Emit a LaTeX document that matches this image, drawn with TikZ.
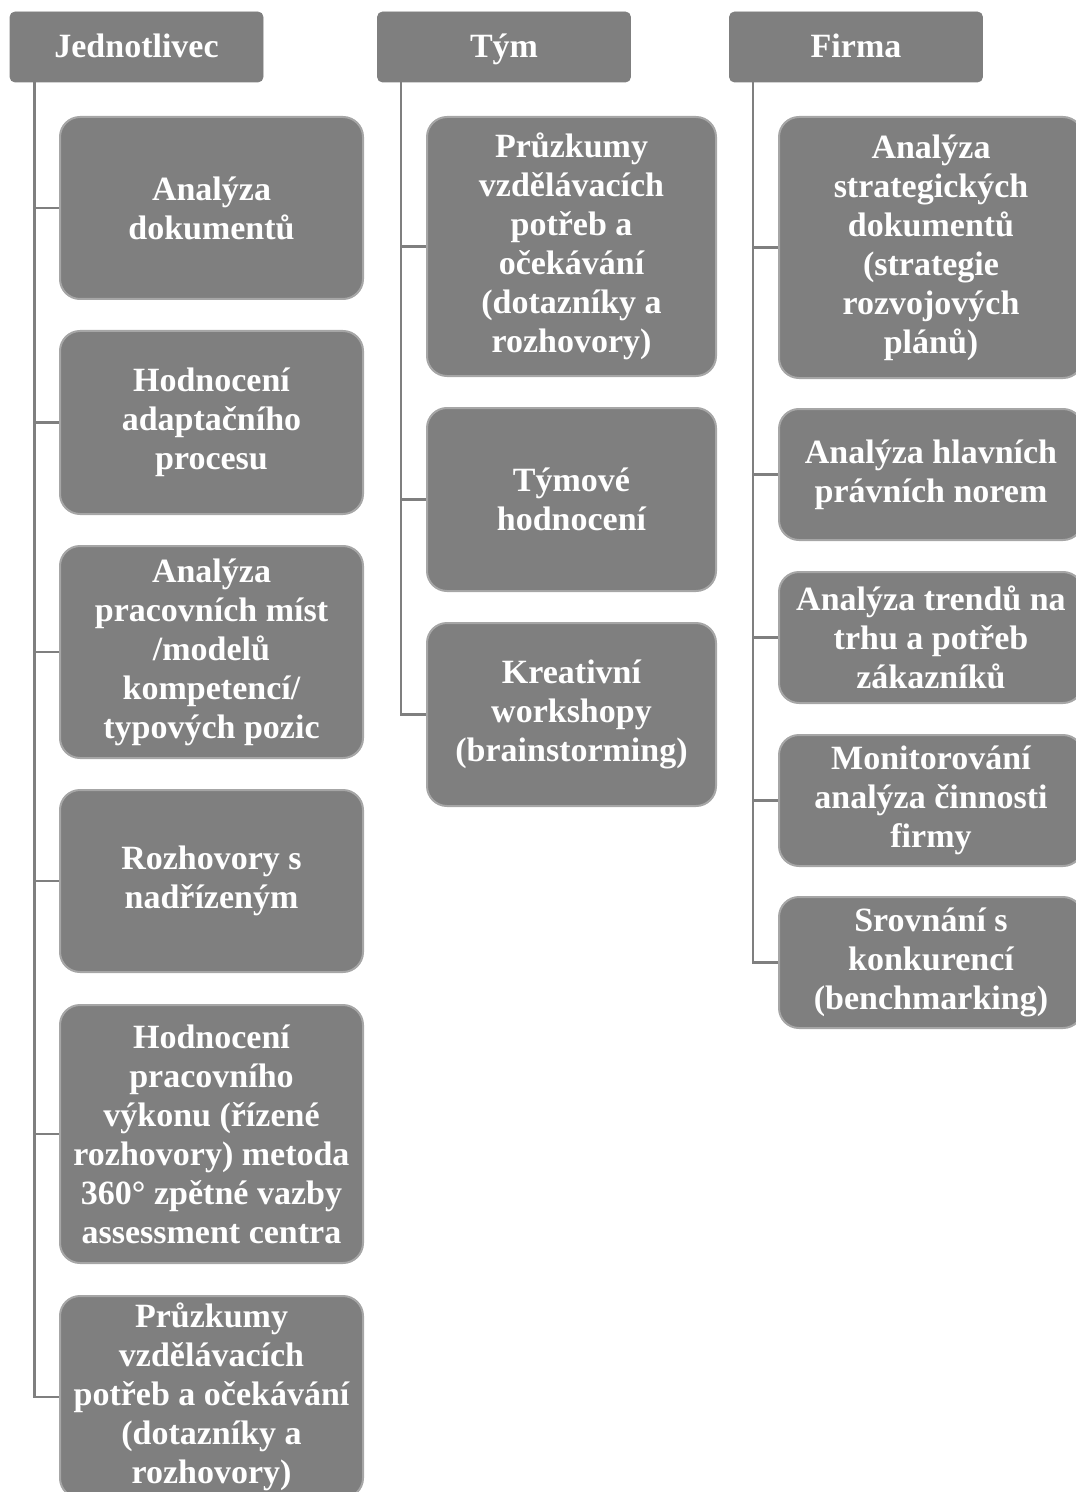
\documentclass[tikz,border=0pt]{standalone}
\usepackage{fontspec}
\setmainfont{Liberation Serif}
\usetikzlibrary{positioning}
\definecolor{boxgray}{HTML}{7F7F7F}
\definecolor{rimgray}{HTML}{A6A6A6}

\begin{document}
\begin{tikzpicture}[x=0.5pt, y=-0.5pt,
  hbox/.style={rectangle, rounded corners=2.5pt, fill=boxgray, draw=boxgray,
    minimum height=35pt, minimum width=126.5pt, text height=13pt, text depth=2pt},
  cbox/.style={rectangle, rounded corners=10pt, fill=boxgray, draw=rimgray, line width=1pt,
    align=center, inner sep=0pt},
  every node/.append style={text=white, font=\fontsize{17}{19.5}\selectfont\bfseries}]

\useasboundingbox (0,0) rectangle (1075,1492);

\node (hJ) at (136.5, 47) [hbox] {Jednotlivec};
\node (hT) at (504, 47) [hbox] {Tým};
\node (hF) at (856, 47) [hbox] {Firma};

\begin{scope}[every node/.append style={cbox, minimum width=151.5pt}]
\node (j1) at (211.5, 208) [minimum height=91pt] {Analýza\\dokumentů};
\node (j2) at (211.5, 422.5) [minimum height=91.5pt] {Hodnocení\\adaptačního\\procesu};
\node (j3) at (211.5, 652) [minimum height=106pt] {Analýza\\pracovních míst\\/modelů\\kompetencí/\\typových pozic};
\node (j4) at (211.5, 881) [minimum height=91pt] {Rozhovory s\\nadřízeným};
\node (j5) at (211.5, 1134) [minimum height=129pt] {Hodnocení\\pracovního\\výkonu (řízené\\rozhovory) metoda\\360° zpětné vazby\\assessment centra};
\node (j6) at (211.5, 1397) [minimum height=101pt] {Průzkumy\\vzdělávacích\\potřeb a očekávání\\(dotazníky a\\rozhovory)};
\end{scope}

\begin{scope}[every node/.append style={cbox, minimum width=144.5pt}]
\node (t1) at (571.5, 246.5) [minimum height=129.5pt] {Průzkumy\\vzdělávacích\\potřeb a\\očekávání\\(dotazníky a\\rozhovory)};
\node (t2) at (571.5, 499.5) [minimum height=91.5pt] {Týmové\\hodnocení};
\node (t3) at (571.5, 714.5) [minimum height=91.5pt] {Kreativní\\workshopy\\(brainstorming)};
\end{scope}

\begin{scope}[every node/.append style={cbox, minimum width=152pt}]
\node (f1) at (931, 247.5) [minimum height=130.5pt] {Analýza\\strategických\\dokumentů\\(strategie\\rozvojových\\plánů)};
\node (f2) at (931, 474.5) [minimum height=65.5pt] {Analýza hlavních\\právních norem};
\node (f3) at (931, 637.5) [minimum height=65.5pt] {Analýza trendů na\\trhu a potřeb\\zákazníků};
\node (f4) at (931, 800.5) [minimum height=65.5pt] {Monitorování\\analýza činnosti\\firmy};
\node (f5) at (931, 962.5) [minimum height=65.5pt] {Srovnání s\\konkurencí\\(benchmarking)};
\end{scope}

\begin{scope}[draw=boxgray, line width=1.2pt]
\foreach \c in {j1,j2,j3,j4,j5,j6}
  \draw ([xshift=12.5pt]hJ.south west) |- (\c.west);
\foreach \c in {t1,t2,t3}
  \draw ([xshift=12pt]hT.south west) |- (\c.west);
\foreach \c in {f1,f2,f3,f4,f5}
  \draw ([xshift=12pt]hF.south west) |- (\c.west);
\end{scope}

\end{tikzpicture}
\end{document}
